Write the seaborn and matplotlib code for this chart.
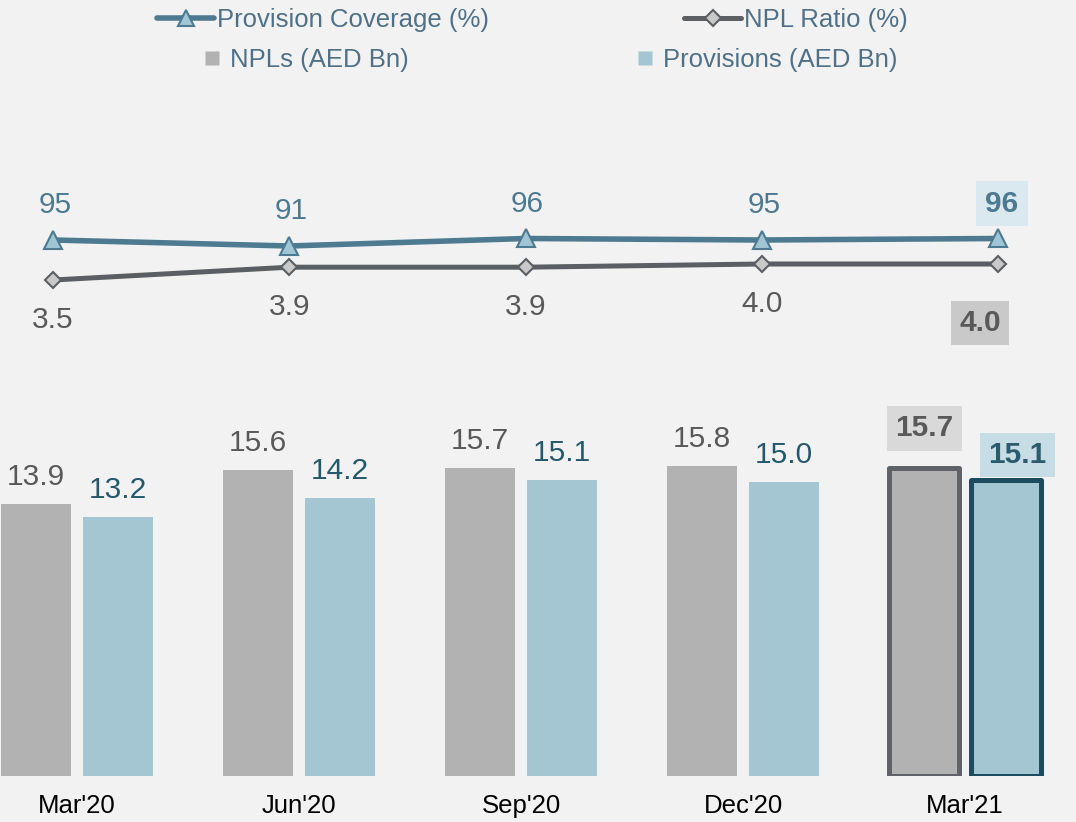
import matplotlib
matplotlib.use("Agg")
import matplotlib.pyplot as plt
from matplotlib.lines import Line2D
import seaborn as sns
import pandas as pd

# ---- data ----
quarters = ["Mar'20", "Jun'20", "Sep'20", "Dec'20", "Mar'21"]
npls = [13.9, 15.6, 15.7, 15.8, 15.7]
provisions = [13.2, 14.2, 15.1, 15.0, 15.1]
coverage = [95, 91, 96, 95, 96]
npl_ratio = [3.5, 3.9, 3.9, 4.0, 4.0]
series_names = ["NPLs (AED Bn)", "Provisions (AED Bn)"]
line_names = ["Provision Coverage (%)", "NPL Ratio (%)"]

# ---- style ----
BG = "#f2f2f2"
C_NPL = "#b2b2b2"
C_PROV = "#a3c6d2"
C_COV = "#4d7a91"
C_COV_FILL = "#9ec6d4"
C_RAT = "#5b5f63"
C_RAT_FILL = "#c9c9c9"
C_TXT_GRAY = "#595959"
C_TXT_PROV = "#24586b"
C_LEG = "#4f7087"
FONT = "Liberation Sans"

sns.set_theme(style="white")
plt.rcParams["font.family"] = [FONT, "DejaVu Sans"]

W, H = 1076, 822
fig = plt.figure(figsize=(W / 100, H / 100), dpi=100, facecolor=BG)

def px(v):
    return v * 0.72  # pixels -> points

# ---- bars ----
bar_bottom = 776
ppu = 19.6
ax = fig.add_axes([0, (H - bar_bottom) / H, 1, bar_bottom / H])
ax.set_facecolor("none")
df = pd.DataFrame({
    "Quarter": quarters * 2,
    "Series": [series_names[0]] * len(quarters) + [series_names[1]] * len(quarters),
    "Value": npls + provisions,
})
sns.barplot(data=df, x="Quarter", y="Value", hue="Series", order=quarters,
            hue_order=series_names, palette=[C_NPL, C_PROV], saturation=1,
            width=0.734, gap=0.14, linewidth=0, legend=False, ax=ax)
ax.set_xlim((0 - 77) / 222, (W - 77) / 222)
ax.set_ylim(0, bar_bottom / ppu)
for s in ax.spines.values():
    s.set_visible(False)
ax.set_yticks([])
ax.set_xlabel("")
ax.set_ylabel("")
ax.tick_params(axis="x", length=0, pad=13, labelsize=18.5, labelcolor="#000000")

n = len(quarters)
patches = [p for p in ax.patches][:2 * n]
npl_patches = patches[:n]
prov_patches = patches[n:2 * n]
# highlight last quarter
npl_patches[-1].set_edgecolor("#5f6368")
npl_patches[-1].set_linewidth(3.6)
npl_patches[-1].set_joinstyle("round")
prov_patches[-1].set_edgecolor("#1d4c5e")
prov_patches[-1].set_linewidth(3.6)
prov_patches[-1].set_joinstyle("round")

FS = 21.5
for i, (p, v) in enumerate(zip(npl_patches, npls)):
    x = p.get_x() + p.get_width() / 2
    if i == n - 1:
        ax.annotate(f"{v:.1f}", (x, v), xytext=(0, px(32)), textcoords="offset points",
                    ha="center", va="baseline", fontsize=FS, color=C_TXT_GRAY, fontweight="bold",
                    bbox=dict(boxstyle="square,pad=0.28", fc="#d9d9d9", ec="none"))
    else:
        ax.annotate(f"{v:.1f}", (x, v), xytext=(0, px(19)), textcoords="offset points",
                    ha="center", va="baseline", fontsize=FS, color=C_TXT_GRAY)
for i, (p, v) in enumerate(zip(prov_patches, provisions)):
    x = p.get_x() + p.get_width() / 2
    if i == n - 1:
        ax.annotate(f"{v:.1f}", (x, v), xytext=(px(12), px(17)), textcoords="offset points",
                    ha="center", va="baseline", fontsize=FS, color="#2b5b6d", fontweight="bold",
                    bbox=dict(boxstyle="square,pad=0.28", fc="#c6dde5", ec="none"))
    else:
        ax.annotate(f"{v:.1f}", (x, v), xytext=(0, px(19)), textcoords="offset points",
                    ha="center", va="baseline", fontsize=FS, color=C_TXT_PROV)

# ---- lines ----
x0, step = 53, 236.25
xs = list(range(n))
axc = fig.add_axes([0, 0, 1, 1])
axc.set_facecolor("none")
axc.axis("off")
sns.lineplot(x=xs, y=coverage, ax=axc, color=C_COV, linewidth=4, marker="^",
             markersize=13.5, markerfacecolor=C_COV_FILL, markeredgecolor=C_COV,
             markeredgewidth=1.5)
axc.set_xlim((0 - x0) / step, (W - x0) / step)
cov_ref, cov_px, cov_ppu = 95, 240, 1.5
axc.set_ylim(cov_ref - (H - cov_px) / cov_ppu, cov_ref + cov_px / cov_ppu)

axr = fig.add_axes([0, 0, 1, 1])
axr.set_facecolor("none")
axr.axis("off")
sns.lineplot(x=xs, y=npl_ratio, ax=axr, color=C_RAT, linewidth=3.6, marker="D",
             markersize=8, markerfacecolor=C_RAT_FILL, markeredgecolor=C_RAT,
             markeredgewidth=1.5)
axr.set_xlim((0 - x0) / step, (W - x0) / step)
rat_ref, rat_px, rat_ppu = 3.5, 280, 32
axr.set_ylim(rat_ref - (H - rat_px) / rat_ppu, rat_ref + rat_px / rat_ppu)

for i, v in enumerate(coverage):
    if i == n - 1:
        axc.annotate(f"{v:.0f}", (i, v), xytext=(px(4), px(27)), textcoords="offset points",
                     ha="center", va="baseline", fontsize=FS, color=C_COV, fontweight="bold",
                     bbox=dict(boxstyle="square,pad=0.3", fc="#d9e9ef", ec="none"))
    else:
        axc.annotate(f"{v:.0f}", (i, v), xytext=(px(2), px(27)), textcoords="offset points",
                     ha="center", va="baseline", fontsize=FS, color=C_COV)
for i, v in enumerate(npl_ratio):
    if i == n - 1:
        axr.annotate(f"{v:.1f}", (i, v), xytext=(px(-18), px(-67)), textcoords="offset points",
                     ha="center", va="baseline", fontsize=FS, color=C_TXT_GRAY, fontweight="bold",
                     bbox=dict(boxstyle="square,pad=0.28", fc="#c9c9c9", ec="none"))
    else:
        axr.annotate(f"{v:.1f}", (i, v), xytext=(0, px(-48)), textcoords="offset points",
                     ha="center", va="baseline", fontsize=FS, color=C_TXT_GRAY)

# ---- legends ----
LFS = 18.5
h_lines = [
    Line2D([], [], color=C_COV, linewidth=4, marker="^", markersize=12,
           markerfacecolor=C_COV_FILL, markeredgecolor=C_COV, markeredgewidth=1.5),
    Line2D([], [], color=C_RAT, linewidth=3.6, marker="D", markersize=8,
           markerfacecolor=C_RAT_FILL, markeredgecolor=C_RAT, markeredgewidth=1.5),
]
leg1 = fig.legend(h_lines, line_names, loc="center", bbox_to_anchor=(0.495, 1 - 20 / H),
                  ncol=2, frameon=False, fontsize=LFS, handlelength=2.2,
                  handletextpad=0.12, columnspacing=7.6, borderpad=0, borderaxespad=0)
for t in leg1.get_texts():
    t.set_color(C_LEG)
h_bars = [
    Line2D([], [], linestyle="none", marker="s", markersize=9.5, markerfacecolor=C_NPL,
           markeredgecolor="none"),
    Line2D([], [], linestyle="none", marker="s", markersize=9.5, markerfacecolor=C_PROV,
           markeredgecolor="none"),
]
leg2 = fig.legend(h_bars, series_names, loc="center", bbox_to_anchor=(0.511, 1 - 60 / H),
                  ncol=2, frameon=False, fontsize=LFS, handlelength=0.8,
                  handletextpad=0.3, columnspacing=8.8, borderpad=0, borderaxespad=0)
for t in leg2.get_texts():
    t.set_color(C_LEG)

fig.savefig("out.png", dpi=100, facecolor=BG)
